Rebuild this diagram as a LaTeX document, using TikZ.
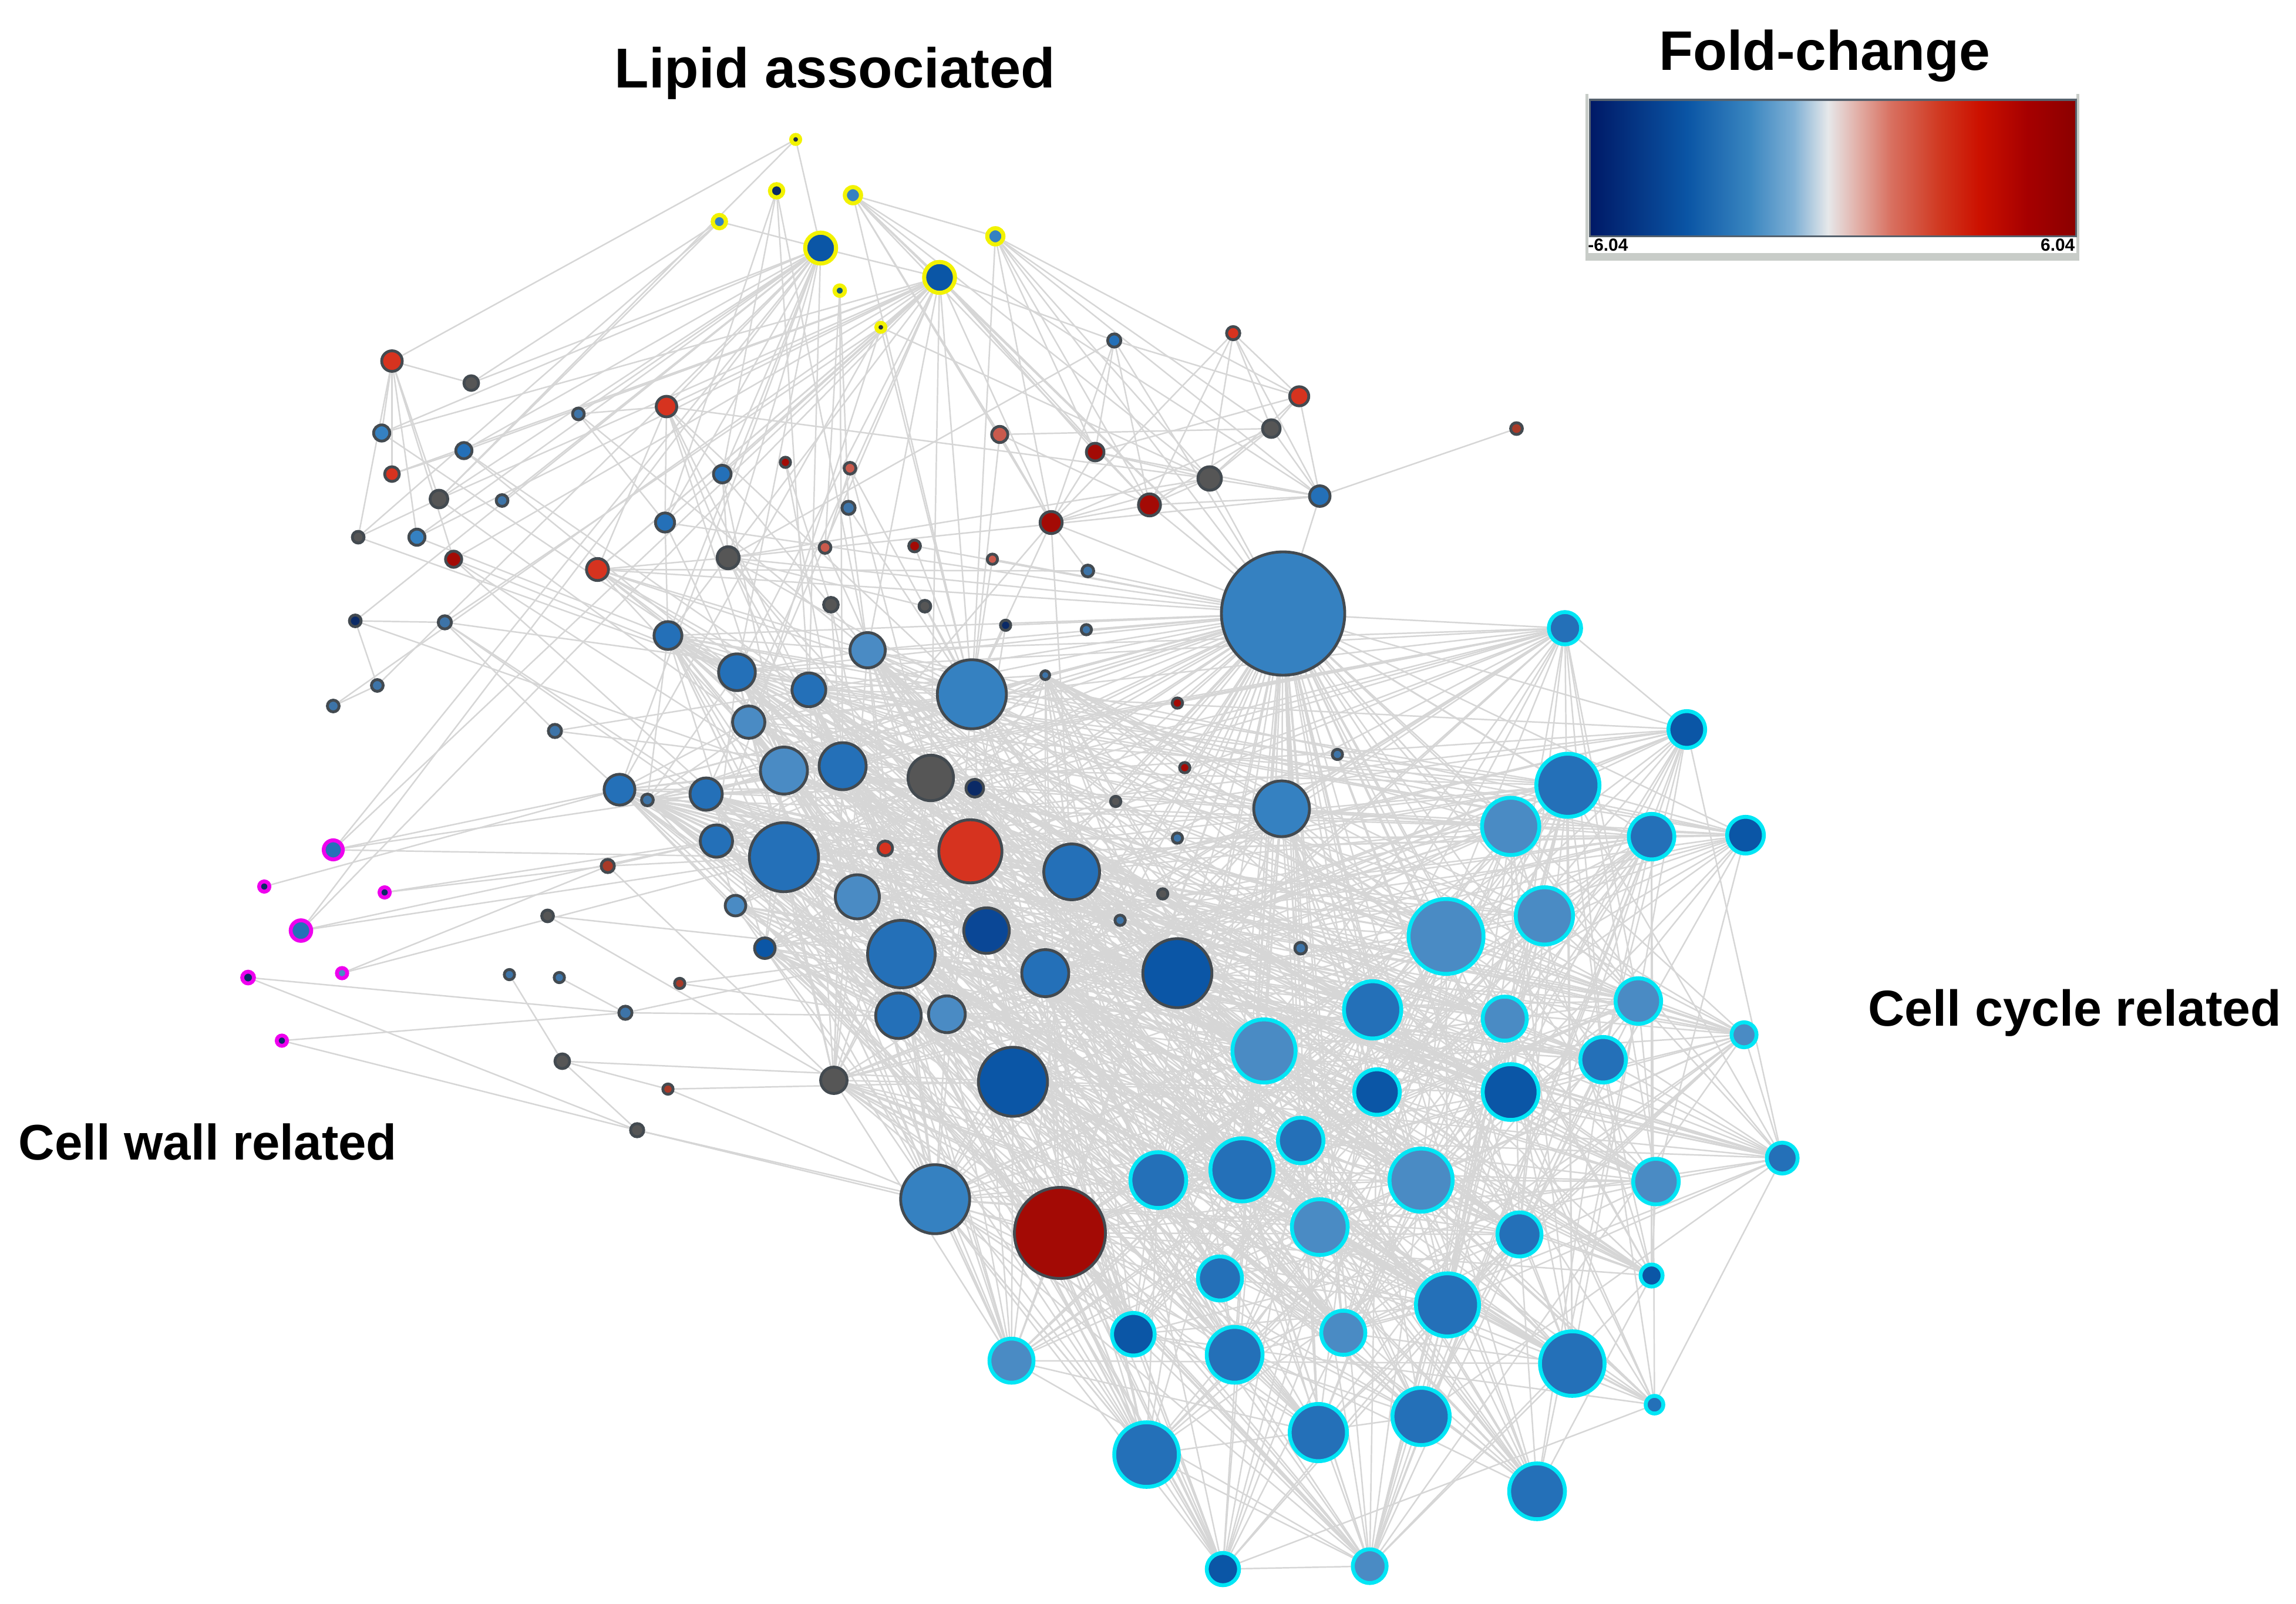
\documentclass[tikz,border=0pt]{standalone}
\usepackage{fontspec}
\setmainfont{Liberation Sans}
\pgfdeclarelayer{bglayer}
\pgfdeclarelayer{edgelayer}
\pgfsetlayers{bglayer,edgelayer,main}
\definecolor{cnavy}{HTML}{0B2A66}
\definecolor{cnavyb}{HTML}{0A4796}
\definecolor{cdblue}{HTML}{0B56A6}
\definecolor{cmblue}{HTML}{2470B8}
\definecolor{clblue}{HTML}{3581C1}
\definecolor{csblue}{HTML}{4A8BC4}
\definecolor{csteel}{HTML}{3D74A8}
\definecolor{cgray}{HTML}{565656}
\definecolor{cred}{HTML}{D6331F}
\definecolor{cdred}{HTML}{A30A05}
\definecolor{csalmon}{HTML}{C95A4D}
\definecolor{cbrred}{HTML}{A83A28}
\definecolor{cdark}{HTML}{1F2D45}
\definecolor{cteal}{HTML}{145A78}
\definecolor{bordg}{HTML}{434A50}
\definecolor{ycol}{HTML}{F2F200}
\definecolor{ccol}{HTML}{00E6F5}
\definecolor{mcol}{HTML}{EE00EE}
\definecolor{edgec}{HTML}{D6D6D6}
\definecolor{legframe}{HTML}{C8CCC8}
\definecolor{legedge}{HTML}{56626E}
\definecolor{g0}{HTML}{001966}
\definecolor{g1}{HTML}{0A55A5}
\definecolor{g2}{HTML}{3A86C0}
\definecolor{g3}{HTML}{7FB0D5}
\definecolor{g4}{HTML}{E6E8EA}
\definecolor{g5}{HTML}{E2B0A8}
\definecolor{g6}{HTML}{D87060}
\definecolor{g7}{HTML}{D03820}
\definecolor{g8}{HTML}{CC1100}
\definecolor{g9}{HTML}{A60000}
\definecolor{g10}{HTML}{8B0000}
\pgfdeclarehorizontalshading{foldc}{100bp}{color(0bp)=(g0); color(25bp)=(g0); color(35bp)=(g1); color(41.5bp)=(g2); color(46bp)=(g3); color(49.5bp)=(g4); color(52.5bp)=(g5); color(56bp)=(g6); color(61bp)=(g7); color(65bp)=(g8); color(70bp)=(g9); color(75bp)=(g10); color(100bp)=(g10)}
\newcount\hA
\newcount\hB
\newcommand\hashpick[2]{\hA=\numexpr (#1)*37+(#2)*53+(#1)*(#2)*17+(#1)*(#1)*3+(#2)*(#2)*5\relax\hB=\numexpr\hA/29\relax\hA=\numexpr\hA-\hB*29\relax\ifnum\hA<0 \advance\hA by 29 \fi}
\newcommand\mkn[6]{\node[#6, fill=#5, minimum size=#4*0.2mm] (#1) at (#2,#3) {};}
\tikzset{
  nodeg/.style={circle, inner sep=0pt, draw=bordg, line width=0.55pt},
  nodey/.style={circle, inner sep=0pt, draw=ycol, line width=0.8pt},
  nodec/.style={circle, inner sep=0pt, draw=ccol, line width=0.75pt},
  nodem/.style={circle, inner sep=0pt, draw=mcol, line width=0.75pt},
  edge/.style={draw=edgec, line width=0.28pt},
  lab/.style={inner sep=0pt, text=black},
}
\begin{document}
\begin{tikzpicture}[x=0.1mm,y=-0.1mm]
\useasboundingbox (0,0) rectangle (1564,1092.8);
\begin{pgfonlayer}{bglayer}
\fill[white] (0,0) rectangle (1564,1092.8);
\end{pgfonlayer}
% ---------- yellow (lipid) ----------
\mkn{y1}{542}{95}{3}{cdark}{nodey}
\mkn{y2}{529}{130}{4.5}{cnavy}{nodey}
\mkn{y3}{581}{133}{5.5}{clblue}{nodey}
\mkn{y4}{490}{151}{4.5}{clblue}{nodey}
\mkn{y5}{559}{169}{10.5}{cdblue}{nodey}
\mkn{y6}{640}{189}{10.5}{cdblue}{nodey}
\mkn{y7}{678}{161}{5.5}{clblue}{nodey}
\mkn{y8}{572}{198}{3.5}{cteal}{nodey}
\mkn{y9}{600}{223}{3}{cdark}{nodey}
% ---------- upper left ----------
\mkn{a1}{267}{246}{7}{cred}{nodeg}
\mkn{a2}{321}{261}{5}{cgray}{nodeg}
\mkn{a3}{260}{295}{5.5}{clblue}{nodeg}
\mkn{a4}{316}{307}{5.5}{cmblue}{nodeg}
\mkn{a5}{267}{323}{5}{cred}{nodeg}
\mkn{a6}{299}{340}{6}{cgray}{nodeg}
\mkn{a7}{342}{341}{4}{csteel}{nodeg}
\mkn{a8}{244}{366}{4}{cgray}{nodeg}
\mkn{a9}{284}{366}{5.5}{clblue}{nodeg}
\mkn{a10}{309}{381}{5.5}{cdred}{nodeg}
\mkn{a11}{394}{282}{4}{csteel}{nodeg}
\mkn{a12}{454}{277}{7}{cred}{nodeg}
\mkn{a13}{492}{323}{6}{cmblue}{nodeg}
\mkn{a14}{535}{315}{3.5}{cdred}{nodeg}
\mkn{a15}{579}{319}{4}{csalmon}{nodeg}
\mkn{a16}{453}{356}{6.5}{cmblue}{nodeg}
\mkn{a17}{578}{346}{4.5}{csteel}{nodeg}
\mkn{a18}{407}{388}{7.5}{cred}{nodeg}
\mkn{a19}{496}{380}{7.5}{cgray}{nodeg}
\mkn{a20}{562}{373}{4}{csalmon}{nodeg}
\mkn{a21}{623}{372}{4}{cdred}{nodeg}
\mkn{a22}{676}{381}{3.5}{csalmon}{nodeg}
\mkn{a23}{741}{389}{4}{csteel}{nodeg}
\mkn{a24}{566}{412}{5}{cgray}{nodeg}
\mkn{a25}{630}{413}{4}{cgray}{nodeg}
\mkn{a26}{685}{426}{3.5}{cnavy}{nodeg}
\mkn{a27}{740}{429}{3.5}{csteel}{nodeg}
\mkn{a28}{242}{423}{4}{cnavy}{nodeg}
\mkn{a29}{303}{424}{4.5}{csteel}{nodeg}
% ---------- upper right ----------
\mkn{b1}{759}{232}{4.5}{cmblue}{nodeg}
\mkn{b2}{840}{227}{4.5}{cred}{nodeg}
\mkn{b3}{885}{270}{6.5}{cred}{nodeg}
\mkn{b4}{866}{292}{6}{cgray}{nodeg}
\mkn{b5}{1033}{292}{4}{cbrred}{nodeg}
\mkn{b6}{746}{308}{6}{cdred}{nodeg}
\mkn{b7}{824}{326}{8}{cgray}{nodeg}
\mkn{b8}{783}{344}{7.5}{cdred}{nodeg}
\mkn{b9}{899}{338}{7}{cmblue}{nodeg}
\mkn{b10}{681}{296}{5.5}{csalmon}{nodeg}
\mkn{b11}{716}{356}{7.5}{cdred}{nodeg}
% ---------- hub ----------
\mkn{h}{874}{418}{42}{clblue}{nodeg}
% ---------- central cluster ----------
\mkn{c1}{455}{433}{9.5}{cmblue}{nodeg}
\mkn{c2}{502}{458}{12.5}{cmblue}{nodeg}
\mkn{c3}{551}{470}{11.5}{cmblue}{nodeg}
\mkn{c4}{591}{443}{12}{csblue}{nodeg}
\mkn{c5}{662}{473}{23.5}{clblue}{nodeg}
\mkn{c6}{712}{460}{3}{csteel}{nodeg}
\mkn{c7}{510}{492}{11}{csblue}{nodeg}
\mkn{c8}{422}{538}{10.5}{cmblue}{nodeg}
\mkn{c9}{441}{545}{4}{csteel}{nodeg}
\mkn{c10}{481}{541}{11}{cmblue}{nodeg}
\mkn{c11}{534}{525}{16}{csblue}{nodeg}
\mkn{c12}{574}{522}{16}{cmblue}{nodeg}
\mkn{c13}{634}{530}{15.5}{cgray}{nodeg}
\mkn{c14}{664}{537}{6}{cnavy}{nodeg}
\mkn{c15}{488}{573}{11}{cmblue}{nodeg}
\mkn{c16}{534}{584}{23.5}{cmblue}{nodeg}
\mkn{c17}{603}{578}{5}{cred}{nodeg}
\mkn{c18}{661}{580}{21.5}{cred}{nodeg}
\mkn{c19}{730}{594}{19}{cmblue}{nodeg}
\mkn{c20}{584}{611}{15}{csblue}{nodeg}
\mkn{c21}{501}{617}{7}{csblue}{nodeg}
\mkn{c22}{521}{646}{7}{cdblue}{nodeg}
\mkn{c23}{614}{650}{23}{cmblue}{nodeg}
\mkn{c24}{672}{634}{15.5}{cnavyb}{nodeg}
\mkn{c25}{712}{663}{16}{cmblue}{nodeg}
\mkn{c26}{802}{663}{23.5}{cdblue}{nodeg}
\mkn{c27}{612}{692}{15.5}{cmblue}{nodeg}
\mkn{c28}{645}{691}{12.5}{csblue}{nodeg}
\mkn{c29}{568}{736}{9}{cgray}{nodeg}
\mkn{c30}{690}{737}{23.5}{cdblue}{nodeg}
\mkn{c31}{637}{817}{23.5}{clblue}{nodeg}
\mkn{c32}{722}{840}{31}{cdred}{nodeg}
\mkn{c33}{873}{551}{19}{clblue}{nodeg}
% ---------- small scattered ----------
\mkn{d1}{802}{479}{3.5}{cdred}{nodeg}
\mkn{d2}{807}{523}{3.5}{cdred}{nodeg}
\mkn{d3}{911}{514}{3.5}{csteel}{nodeg}
\mkn{d4}{760}{546}{3.5}{cgray}{nodeg}
\mkn{d5}{802}{571}{3.5}{csteel}{nodeg}
\mkn{d6}{792}{609}{3.5}{cgray}{nodeg}
\mkn{d7}{763}{627}{3.5}{csteel}{nodeg}
\mkn{d8}{886}{646}{4}{csteel}{nodeg}
\mkn{d9}{378}{498}{4.5}{csteel}{nodeg}
\mkn{d10}{257}{467}{4}{csteel}{nodeg}
\mkn{d11}{227}{481}{4}{csteel}{nodeg}
\mkn{d12}{414}{590}{4.5}{cbrred}{nodeg}
\mkn{d13}{373}{624}{4}{cgray}{nodeg}
\mkn{d14}{347}{664}{3.5}{csteel}{nodeg}
\mkn{d15}{381}{666}{3.5}{csteel}{nodeg}
\mkn{d16}{463}{670}{3.5}{cbrred}{nodeg}
\mkn{d17}{426}{690}{4.5}{csteel}{nodeg}
\mkn{d18}{383}{723}{5}{cgray}{nodeg}
\mkn{d19}{455}{742}{3.5}{cbrred}{nodeg}
\mkn{d20}{434}{770}{4.5}{cgray}{nodeg}
% ---------- magenta (cell wall) ----------
\mkn{m1}{227}{579}{6.5}{cmblue}{nodem}
\mkn{m2}{180}{604}{3.5}{cnavy}{nodem}
\mkn{m3}{262}{608}{3.5}{cnavy}{nodem}
\mkn{m4}{205}{634}{7}{cmblue}{nodem}
\mkn{m5}{169}{666}{4}{cnavy}{nodem}
\mkn{m6}{233}{663}{3.5}{csblue}{nodem}
\mkn{m7}{192}{709}{3.5}{cnavy}{nodem}
% ---------- cyan (cell cycle) ----------
\mkn{e1}{1066}{428}{11}{cmblue}{nodec}
\mkn{e2}{1149}{497}{12.5}{cdblue}{nodec}
\mkn{e3}{1068}{535}{21.5}{cmblue}{nodec}
\mkn{e4}{1029}{563}{19.5}{csblue}{nodec}
\mkn{e5}{1125}{570}{15.5}{cmblue}{nodec}
\mkn{e6}{1189}{569}{12.5}{cdblue}{nodec}
\mkn{e7}{1052}{624}{19.5}{csblue}{nodec}
\mkn{e8}{985}{638}{25.5}{csblue}{nodec}
\mkn{e9}{935}{688}{19.5}{cmblue}{nodec}
\mkn{e10}{1025}{694}{15}{csblue}{nodec}
\mkn{e11}{1116}{682}{15.5}{csblue}{nodec}
\mkn{e12}{1188}{705}{8.5}{csblue}{nodec}
\mkn{e13}{861}{716}{21.5}{csblue}{nodec}
\mkn{e14}{1092}{722}{15.5}{cmblue}{nodec}
\mkn{e15}{938}{744}{15.5}{cdblue}{nodec}
\mkn{e16}{1029}{744}{19}{cdblue}{nodec}
\mkn{e17}{1214}{789}{10.5}{cmblue}{nodec}
\mkn{e18}{886}{777}{15.5}{cmblue}{nodec}
\mkn{e19}{846}{797}{21.5}{cmblue}{nodec}
\mkn{e20}{789}{804}{19}{cmblue}{nodec}
\mkn{e21}{968}{804}{21.5}{csblue}{nodec}
\mkn{e22}{1128}{805}{15.5}{csblue}{nodec}
\mkn{e23}{899}{836}{19}{csblue}{nodec}
\mkn{e24}{1035}{841}{15}{cmblue}{nodec}
\mkn{e25}{1125}{869}{7.5}{cdblue}{nodec}
\mkn{e26}{831}{871}{15}{cmblue}{nodec}
\mkn{e27}{986}{889}{21.5}{cmblue}{nodec}
\mkn{e28}{772}{909}{14.5}{cdblue}{nodec}
\mkn{e29}{841}{923}{19}{cmblue}{nodec}
\mkn{e30}{915}{908}{15}{csblue}{nodec}
\mkn{e31}{1071}{929}{22}{cmblue}{nodec}
\mkn{e32}{689}{927}{15}{csblue}{nodec}
\mkn{e33}{1127}{957}{6}{cmblue}{nodec}
\mkn{e34}{781}{991}{22}{cmblue}{nodec}
\mkn{e35}{898}{976}{19.5}{cmblue}{nodec}
\mkn{e36}{968}{965}{19.5}{cmblue}{nodec}
\mkn{e37}{1047}{1016}{19}{cmblue}{nodec}
\mkn{e38}{833}{1069}{11}{cdblue}{nodec}
\mkn{e39}{933}{1067}{11.5}{csblue}{nodec}
% ---------- labels ----------
\node[lab, anchor=base west, font=\fontsize{10.9}{12}\selectfont\bfseries] (tlipid) at (418,60) {Lipid associated};
\node[lab, anchor=base west, font=\fontsize{9.7}{11}\selectfont\bfseries] (twall) at (12,790) {Cell wall related};
\node[lab, anchor=base west, font=\fontsize{9.8}{11}\selectfont\bfseries] (tcycle) at (1272,699) {Cell cycle related};
\node[lab, anchor=base, font=\fontsize{10.8}{12}\selectfont\bfseries] (tfold) at (1243,48) {Fold-change};
% ---------- legend ----------
\fill[legframe] (1080,64) rectangle (1082,177.5);
\fill[legframe] (1414.5,64) rectangle (1416.5,177.5);
\fill[legframe] (1080,172.5) rectangle (1416.5,177.5);
\shade[shading=foldc] (1083,68) rectangle (1414,161);
\draw[legedge, line width=0.35pt] (1083,68) rectangle (1414,161);
\node[lab, anchor=base west, font=\fontsize{3.4}{4}\selectfont\bfseries] (lmin) at (1081,171) {-6.04};
\node[lab, anchor=base east, font=\fontsize{3.4}{4}\selectfont\bfseries] (lmax) at (1414,171) {6.04};
% ---------- edges ----------
\begin{pgfonlayer}{edgelayer}
\foreach \s/\t in {y1/a1,y1/a6,y1/y5,y2/a13,y2/a16,y2/c4,y2/c3,
 y3/y7,y3/b10,y3/b11,y3/b8,y3/b7,y3/h,y3/b9,y3/y6,y3/c5,
 y4/y5,y4/a6,y4/a8,y4/a2,
 y5/a2,y5/a3,y5/a4,y5/a6,y5/a9,y5/a7,y5/a11,y5/a13,y5/a16,y5/a19,y5/c1,y5/c2,y5/d10,y5/a28,y5/y6,y5/c3,y5/m1,y5/m4,y5/a12,y5/c8,
 y6/a3,y6/a4,y6/a6,y6/a9,y6/a10,y6/a16,y6/a18,y6/c1,y6/c4,y6/c7,y6/d11,y6/b11,y6/h,y6/c5,y6/c13,y6/b6,y6/m1,y6/m4,y6/a13,y6/c2,y6/a12,y6/c10,y6/a5,
 y7/b8,y7/b7,y7/b9,y7/h,y7/b4,y7/b6,y7/c5,y7/b11,
 y8/a20,y8/c12,y8/a17,
 y9/c8,y9/a18,y9/b7,y9/c5,y9/a29,y9/c15,
 a1/a2,a1/a3,a1/a5,a1/a6,a1/a9,a1/a10,a1/a8,
 a3/c2,a4/c3,a4/c2,a5/a4,a6/a8,a6/c7,a8/c2,a9/c1,a10/c16,a10/c2,a10/c11,
 a11/c4,a11/a16,a11/a12,
 a12/a16,a12/a13,a12/c5,a12/a18,a12/c11,a12/a19,a12/b7,a12/c12,
 a13/c11,a13/c4,a13/a19,a14/c12,a14/a24,a15/c13,a15/c5,a15/a20,a16/c1,a16/c11,a17/c4,a17/c5,
 a18/c5,a18/c12,a18/c13,a18/h,a18/a23,a18/c3,a18/c11,a18/c18,a18/a19,a18/c4,
 a19/h,a19/c5,a19/b9,a19/c18,a19/a25,a19/c23,a19/c13,a19/c12,
 a20/c13,a21/c5,a21/h,a22/h,a22/c5,a23/b11,a23/h,a24/c12,a24/c23,a25/c19,a26/h,a26/c5,a26/c18,a27/h,
 a28/c11,a28/a29,a28/d10,a29/c5,a29/c16,a29/c10,
 b1/y6,b1/b8,b1/b3,b1/h,b1/a19,b1/b11,b1/b6,
 b2/b3,b2/b4,b2/b11,b2/b7,b2/b9,b2/b8,
 b3/b4,b3/b9,b3/b7,b3/b6,b3/y7,b4/b9,b4/b7,b4/b8,b4/b11,b5/b9,
 b6/b7,b6/b11,b6/b9,b7/b9,b7/b8,b7/b11,b7/a19,b8/b11,b8/b9,b8/h,b8/y6,
 b10/b11,b10/b4,b10/b8,b10/c5,b11/h,b11/c5,b11/c19,b11/c12,
 m1/c8,m1/c10,m1/c16,m2/c8,m3/d12,m3/c15,m4/c15,m4/c16,
 m5/d17,m5/d20,m6/d12,m6/c16,m7/d17,m7/d20,
 d9/c8,d9/c3,d9/c12,d9/a29,d10/d11,d12/c16,d12/c15,d12/c29,
 d13/c29,d13/c23,d14/d18,d15/d17,d17/c27,d17/c23,d16/c23,d16/c27,
 d18/d19,d18/d20,d19/c30,d19/c31,d20/c31,d20/c32,d18/c30,
 c29/c16,c29/c23,c29/c12,c29/c20,
 c31/e38,c31/e34,c31/e32,c32/e38,c32/e39,c31/e28,c32/e34,c32/e32,e38/e39}
 {\draw[edge] (\s) -- (\t);}
% hub fan
\foreach \t in {c1,c2,c3,c4,c5,c6,c7,c8,c9,c10,c11,c12,c13,c14,c15,c16,c18,c19,c20,c21,c22,c23,c24,c25,c26,c27,c30,c31,c32,c33,d1,d2,d3,d4,d5,d6,d7,d8,b7,b9,a16}
 {\draw[edge] (h) -- (\t);}
\foreach \j in {1,...,39} {\draw[edge] (h) -- (e\j);}
% central cluster to cell-cycle cluster
\foreach \i in {1,...,33} {\foreach \j in {1,...,39} {\hashpick{\i}{\j}\ifnum\hA<11 \draw[edge] (c\i) -- (e\j);\fi}}
% within cell-cycle cluster
\foreach \i in {1,...,38} {\foreach \j in {\i,...,39} {\ifnum\i<\j \hashpick{\i+50}{\j+3}\ifnum\hA<9 \draw[edge] (e\i) -- (e\j);\fi\fi}}
% within central cluster
\foreach \i in {1,...,32} {\foreach \j in {\i,...,33} {\ifnum\i<\j \hashpick{\i+90}{\j+11}\ifnum\hA<8 \draw[edge] (c\i) -- (c\j);\fi\fi}}
\end{pgfonlayer}
\end{tikzpicture}
\end{document}
